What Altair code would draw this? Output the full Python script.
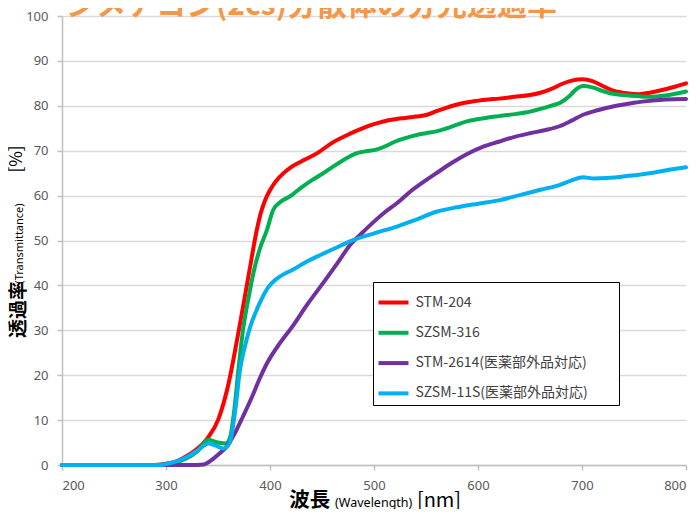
import altair as alt
import pandas as pd

# ---- data ----
series_names = ["STM-204", "SZSM-316", "STM-2614(医薬部外品対応)", "SZSM-11S(医薬部外品対応)"]
series_colors = ["#FF0000", "#00B050", "#7030A0", "#00B0F0"]

wl_stm204 = [200, 250, 290, 300, 310, 320, 330, 340, 350, 360, 370, 380, 387, 391, 395, 400, 405, 413,
             420, 430, 445, 460, 477, 490, 500, 509, 520, 530, 540, 551, 560, 570, 580, 590, 599,
             610, 620, 635, 650, 660, 670, 680, 690, 701, 710, 720, 730, 743, 755, 765, 775, 790, 800]
t_stm204 = [0, 0, 0, 0.3, 0.8, 2.0, 3.6, 6.0, 10.0, 18.0, 30.0, 43.0, 52.0, 56.0, 58.8, 61.2, 63.0, 65.0,
            66.3, 67.6, 69.4, 71.8, 73.8, 75.1, 75.9, 76.5, 77.0, 77.3, 77.6, 78.0, 78.8, 79.6, 80.3, 80.8, 81.1,
            81.4, 81.6, 82.0, 82.4, 82.9, 83.7, 84.8, 85.6, 85.9, 85.5, 84.4, 83.4, 82.8, 82.6, 82.9, 83.4, 84.3, 85.0]

wl_szsm316 = [200, 250, 290, 300, 310, 320, 330, 341, 350, 358, 362, 365, 370, 374, 380, 384, 390, 397,
              403, 410, 419, 430, 440, 450, 461, 472, 483, 490, 503, 512, 520, 530, 541, 550, 560, 570,
              580, 590, 599, 610, 620, 637, 650, 660, 670, 679, 688, 694, 701, 710, 720, 727, 740, 755,
              765, 780, 800]
t_szsm316 = [0, 0, 0, 0.2, 0.6, 1.5, 3.0, 5.6, 5.0, 4.8, 6.5, 11.0, 22.0, 30.0, 38.0, 42.7, 48.0, 52.3,
             56.8, 58.6, 59.8, 61.8, 63.4, 64.8, 66.5, 68.1, 69.4, 69.8, 70.3, 71.1, 72.0, 72.8, 73.5, 73.9, 74.3, 75.0,
             75.8, 76.6, 77.0, 77.4, 77.7, 78.2, 78.7, 79.3, 80.0, 80.7, 82.2, 83.6, 84.4, 84.1, 83.3, 82.8, 82.4, 82.1,
             82.0, 82.3, 83.2]

wl_stm2614 = [200, 250, 300, 330, 336, 340, 345, 350, 358, 366, 374, 382, 390, 397, 410, 422, 436,
              451, 465, 477, 490, 500, 511, 522, 535, 548, 560, 575, 590, 605, 620, 637, 650, 665, 679,
              690, 701, 715, 733, 750, 765, 780, 800]
t_stm2614 = [0, 0, 0, 0, 0.1, 0.5, 1.3, 2.3, 4.0, 7.0, 10.8, 14.8, 19.2, 22.6, 27.3, 31.0, 35.8,
             40.5, 45.0, 49.0, 52.0, 54.2, 56.4, 58.3, 60.9, 63.1, 65.0, 67.3, 69.3, 70.9, 72.0, 73.2, 73.9, 74.6, 75.5,
             76.7, 78.0, 79.0, 80.0, 80.7, 81.1, 81.4, 81.5]

wl_szsm11s = [200, 250, 295, 300, 310, 320, 330, 341, 348, 355, 361, 364, 367, 371, 376, 381, 390,
              398, 406, 414, 422, 433, 445, 460, 480, 500, 522, 540, 560, 580, 600, 621, 640, 660, 679,
              690, 701, 712, 724, 745, 765, 780, 800]
t_szsm11s = [0, 0, 0, 0.2, 0.8, 1.8, 3.2, 4.8, 4.3, 3.7, 4.8, 8.0, 13.0, 21.0, 26.5, 30.8, 36.0,
             39.5, 41.4, 42.6, 43.5, 45.0, 46.4, 48.0, 50.1, 51.6, 53.1, 54.6, 56.4, 57.4, 58.2, 59.0, 60.1, 61.3, 62.4,
             63.4, 64.1, 63.8, 63.9, 64.4, 65.0, 65.6, 66.3]

all_wl = [wl_stm204, wl_szsm316, wl_stm2614, wl_szsm11s]
all_t = [t_stm204, t_szsm316, t_stm2614, t_szsm11s]

rows = []
for k, (name, wls, ts) in enumerate(zip(series_names, all_wl, all_t)):
    for w, t in zip(wls, ts):
        rows.append({"series": name, "order": k, "wl": w, "t": t})
df = pd.DataFrame(rows)

x_ticks = [200, 300, 400, 500, 600, 700, 800]
y_ticks = [0, 10, 20, 30, 40, 50, 60, 70, 80, 90, 100]

chart_title = "ジメチコン(2cs)分散体の分光透過率"

W, H = 624, 449

lines = alt.Chart(df).mark_line(strokeWidth=4, interpolate="monotone", strokeCap="round").encode(
    x=alt.X("wl:Q", scale=alt.Scale(domain=[200, 800], nice=False),
            axis=alt.Axis(values=x_ticks, grid=False, title=None, tickSize=5, labelPadding=9,
                          domainColor="#BFBFBF", domainWidth=1.5, tickColor="#BFBFBF", tickWidth=1.5)),
    y=alt.Y("t:Q", scale=alt.Scale(domain=[0, 100], nice=False),
            axis=alt.Axis(values=y_ticks, grid=True, title=None, tickSize=5, labelPadding=9,
                          gridColor="#D9D9D9", gridWidth=1.3,
                          domainColor="#BFBFBF", domainWidth=1.5, tickColor="#BFBFBF", tickWidth=1.5)),
    color=alt.Color("series:N", sort=series_names,
                    scale=alt.Scale(domain=series_names, range=series_colors),
                    legend=alt.Legend(orient="none", legendX=311, legendY=266,
                                      title="\u00a0", titleOrient="right", titlePadding=28, titleFontSize=4,
                                      symbolType="stroke", symbolSize=900, symbolStrokeWidth=4,
                                      labelFont="Noto Sans CJK JP", labelFontSize=14, labelColor="#404040",
                                      labelLimit=400, labelOffset=5, rowPadding=5.3, padding=3.5,
                                      strokeColor="#000000", fillColor="#FFFFFF")),
    detail="series:N",
    order="order:Q",
)

def txt(s, x, y, size, weight="normal", color="#000000", angle=0, font="Noto Sans CJK JP",
        align="center", baseline="alphabetic"):
    kw = dict(fontSize=size, fontWeight=weight, color=color, font=font, align=align, baseline=baseline)
    if angle:
        kw["angle"] = angle
    return alt.Chart(pd.DataFrame({"s": [s]})).mark_text(**kw).encode(
        x=alt.value(x), y=alt.value(y), text="s:N")

title_t = txt(chart_title, 249.5, -1, 30, weight="bold", color="#F79646")

# y-axis title pieces (rotated)
yt1 = txt("透過率", -43.5, 293.5, 19, weight="bold", angle=270, baseline="middle")
yt2 = txt("(Transmittance)", -42, 227.5, 11, angle=270, font="Noto Sans", baseline="middle")
yt3 = txt("[%]", -45, 143, 17, angle=270, baseline="middle")

# x-axis title pieces
xt1 = txt("波長", 247.7, 491, 20.5, weight="bold")
xt2 = txt("(Wavelength)", 311.7, 491, 12.5, font="Noto Sans")
xt3 = txt("[nm]", 377, 491, 20)

chart = alt.layer(lines, title_t, yt1, yt2, yt3, xt1, xt2, xt3).properties(
    width=W, height=H,
    autosize=alt.AutoSizeParams(type="none"),
    padding={"left": 54, "top": 8, "right": 4, "bottom": 44},
).configure_view(stroke=None).configure_axis(
    labelFont="Noto Sans", labelFontSize=13, labelColor="#595959"
)

chart.save("out.html", embed_options={"renderer": "svg", "actions": False})
